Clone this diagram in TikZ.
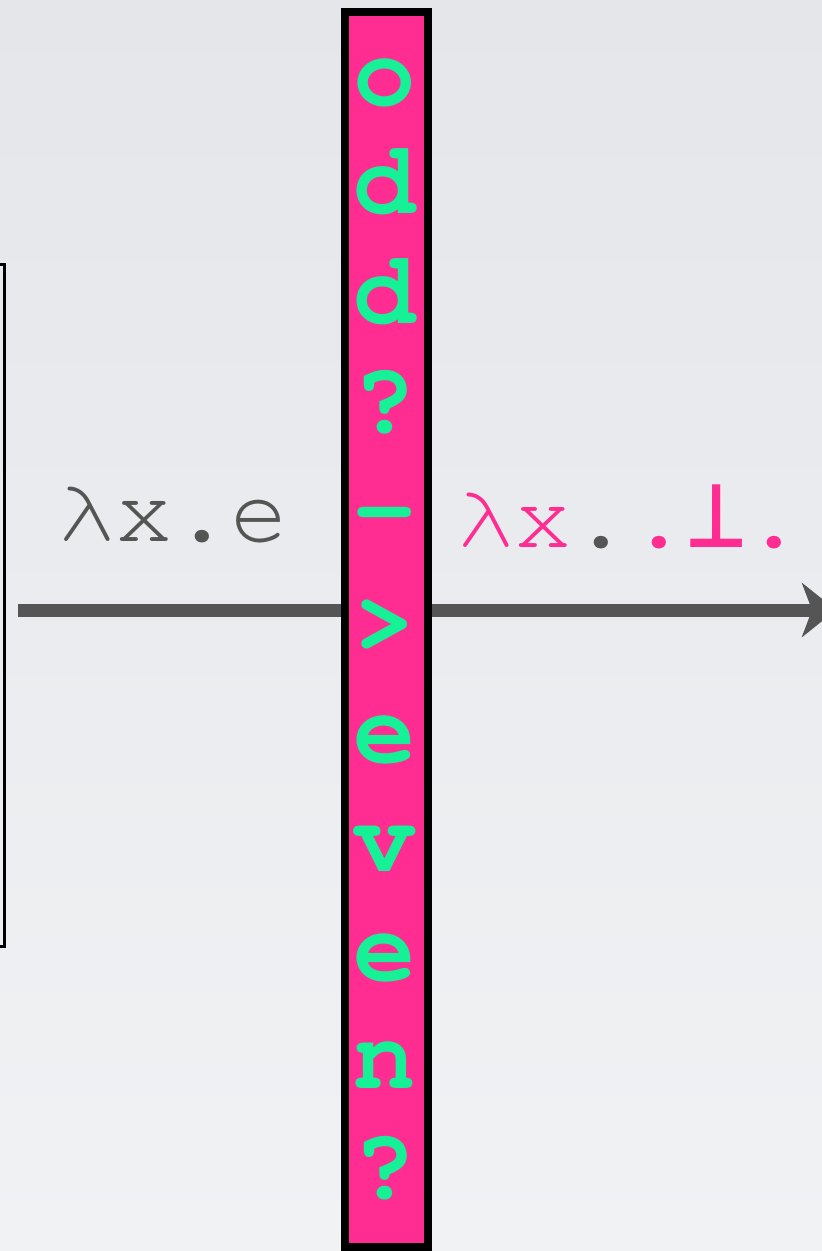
\documentclass[tikz,border=0pt]{standalone}
\usepackage{fontspec}
\usetikzlibrary{arrows.meta}
\newfontfamily\cur{TeX Gyre Cursor}
\newfontfamily\djm{DejaVu Sans Mono}
\definecolor{bgtop}{RGB}{229,230,234}
\definecolor{bgbot}{RGB}{241,242,244}
\definecolor{hotpink}{RGB}{255,45,145}
\definecolor{mint}{RGB}{22,240,150}
\definecolor{arrowgray}{RGB}{85,85,85}
\begin{document}
\begin{tikzpicture}[x=1pt,y=-1pt,
  lbl/.style={anchor=base west, inner sep=0pt, font=\cur\fontsize{96}{96}\selectfont, text=arrowgray},
  barletter/.style={anchor=base, inner sep=0pt, font=\cur\bfseries\fontsize{104}{104}\selectfont, text=mint}]
\useasboundingbox (0,0) rectangle (822,1251);
\shade[top color=bgtop, bottom color=bgbot] (0,0) rectangle (822,1251);
\clip (0,0) rectangle (822,1251);
% left box (partly outside)
\node[draw=black, line width=2.8pt, minimum width=60pt, minimum height=682pt, inner sep=0pt, anchor=north east] (box) at (6,263) {};
% arrow
\coordinate (astart) at (18,610);
\coordinate (aend) at (836,610);
\draw[line width=13pt, arrowgray, -{Stealth[length=34pt, width=54pt, inset=10pt]}] (astart) -- (aend);
% labels
\node[lbl] (lin) at (58,541) {λx.e};
\node[lbl] (lout) at (457,547) {\textcolor{hotpink}{λx}.\textcolor{hotpink}{.\makebox[57.6pt]{\djm\fontsize{100}{100}\selectfont ⊥}.}};
% bar
\node[draw=black, fill=hotpink, line width=8pt, minimum width=82.5pt, minimum height=1235pt, inner sep=0pt, anchor=north west] (bar) at (341,8) {};
\foreach \ch/\yy [count=\i] in {o/105, d/213, d/323, ?/432, -/541, >/650, e/762, v/871, e/980, n/1088, ?/1198}
  \node[barletter] (let\i) at (385,\yy) {\ch};
\end{tikzpicture}
\end{document}
